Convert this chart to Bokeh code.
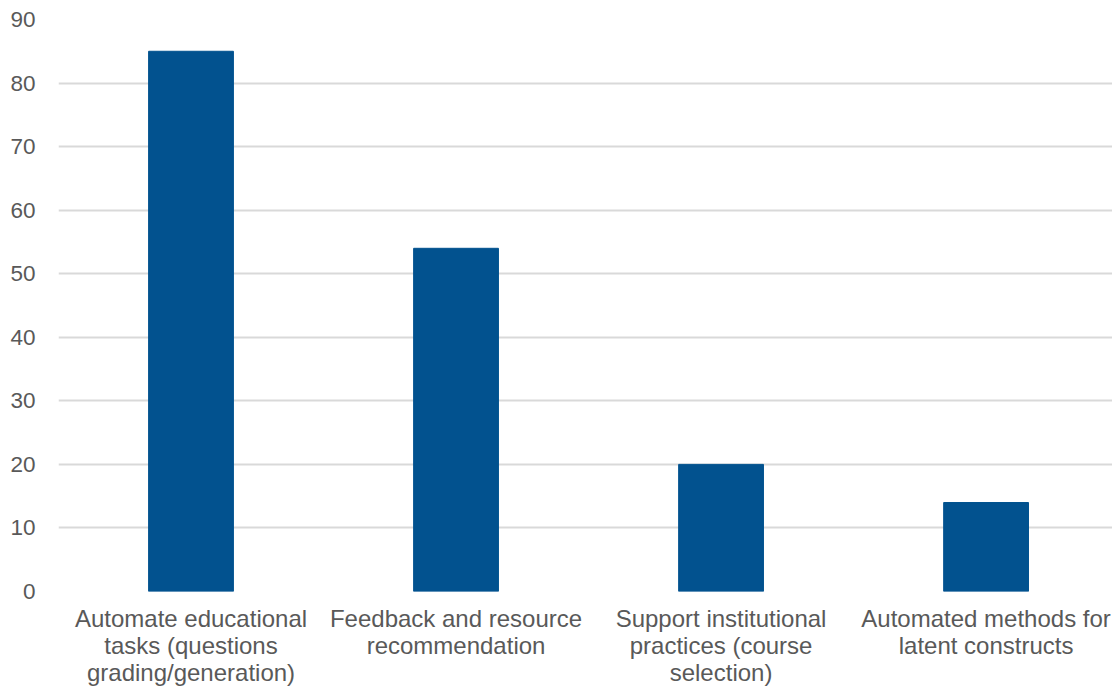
from bokeh.plotting import figure
from bokeh.models import Range1d, FixedTicker
from bokeh.embed import file_html
from bokeh.resources import INLINE

categories = [
    "Automate educational\ntasks (questions\ngrading/generation)",
    "Feedback and resource\nrecommendation",
    "Support institutional\npractices (course\nselection)",
    "Automated methods for\nlatent constructs",
]
values = [85, 54, 20, 14]
y_ticks = [0, 10, 20, 30, 40, 50, 60, 70, 80, 90]

xs = list(range(len(categories)))

p = figure(width=1112, height=688, output_backend="svg", toolbar_location=None,
           x_range=Range1d(-0.5, 3.477), y_range=Range1d(0, 90),
           min_border_left=58, min_border_right=0, min_border_top=19, min_border_bottom=96)
p.outline_line_color = None
p.vbar(x=xs, top=values, width=0.32, bottom=0, color="#02528F")

p.xaxis.ticker = FixedTicker(ticks=xs)
p.xaxis.major_label_overrides = {i: c for i, c in enumerate(categories)}
p.yaxis.ticker = FixedTicker(ticks=y_ticks)

for ax in (p.xaxis, p.yaxis):
    ax.axis_line_color = None
    ax.major_tick_line_color = None
    ax.minor_tick_line_color = None
    ax.major_tick_out = 0
    ax.major_tick_in = 0
    ax.major_label_text_font = "Liberation Sans"
    ax.major_label_text_color = "#595959"
p.xaxis.major_label_text_font_size = "24px"
p.xaxis.major_label_text_line_height = 1.0
p.yaxis.major_label_text_font_size = "22.5px"
p.yaxis.major_label_standoff = 23
p.xaxis.major_label_standoff = 13

p.xgrid.grid_line_color = None
p.ygrid.grid_line_color = "#D9D9D9"
p.ygrid.grid_line_width = 2
p.ygrid.ticker = FixedTicker(ticks=y_ticks)

open("out.html", "w").write(file_html(p, INLINE))
